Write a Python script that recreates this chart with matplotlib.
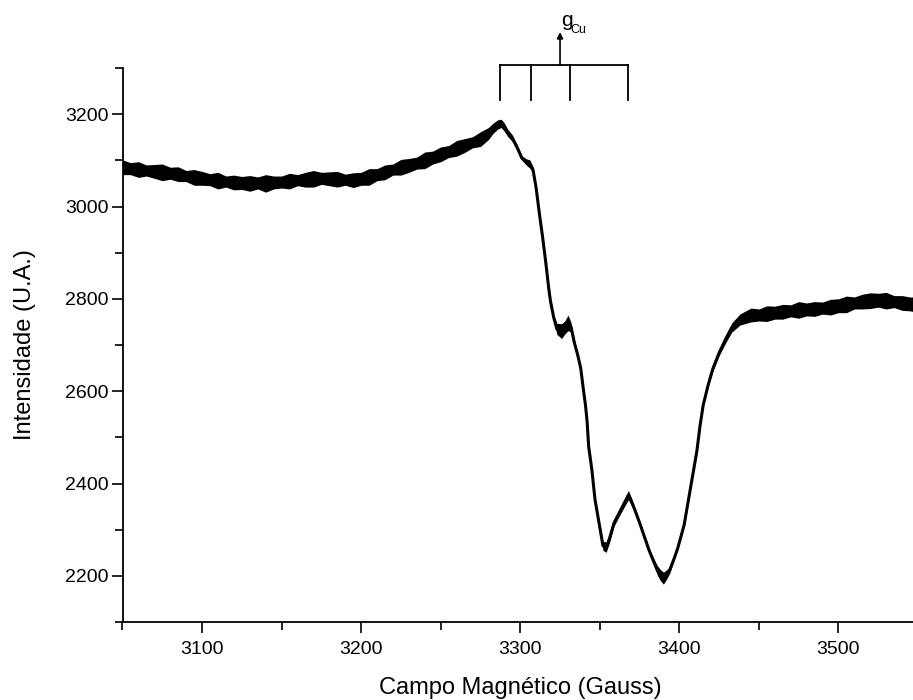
import matplotlib
matplotlib.use("Agg")
import matplotlib.pyplot as plt
import numpy as np

plt.rcParams['font.family'] = ['Liberation Sans', 'DejaVu Sans']

# campo magnetico (G), intensidade media e meia-largura do ruido
campo = [3050, 3055, 3060, 3065, 3070, 3075, 3080, 3085, 3090, 3095,
         3100, 3105, 3110, 3115, 3120, 3125, 3130, 3135, 3140, 3145,
         3150, 3155, 3160, 3165, 3170, 3175, 3180, 3185, 3190, 3195,
         3200, 3205, 3210, 3215, 3220, 3225, 3230, 3235, 3240, 3245,
         3250, 3255, 3260, 3265, 3270, 3275, 3280, 3283, 3286, 3288,
         3290, 3292, 3295, 3298, 3301, 3304, 3306, 3308, 3310, 3312,
         3314, 3316, 3318, 3319, 3321, 3323, 3326, 3328, 3330, 3332,
         3334, 3336, 3338, 3340, 3341, 3342, 3343, 3345, 3347, 3350,
         3352, 3354, 3356, 3359, 3362, 3365, 3368, 3370, 3372, 3375,
         3378, 3381, 3384, 3386, 3388, 3390, 3392, 3394, 3397, 3399,
         3401, 3403, 3405, 3407, 3409, 3411, 3413, 3415, 3418, 3421,
         3425, 3429, 3433, 3438, 3445, 3450, 3455, 3460, 3465, 3470,
         3475, 3480, 3485, 3490, 3495, 3500, 3505, 3510, 3515, 3520,
         3525, 3530, 3535, 3540, 3545, 3550]
intensidade = [3085, 3082, 3080, 3078, 3076, 3074, 3072, 3070, 3066, 3063,
               3061, 3058, 3056, 3054, 3052, 3051, 3050, 3051, 3050, 3052,
               3053, 3055, 3057, 3058, 3060, 3061, 3060, 3059, 3058, 3057,
               3060, 3064, 3069, 3074, 3080, 3085, 3089, 3094, 3100, 3106,
               3113, 3119, 3126, 3132, 3139, 3146, 3158, 3170, 3178, 3180,
               3172, 3160, 3148, 3128, 3105, 3096, 3092, 3080, 3040, 2985,
               2935, 2880, 2820, 2795, 2760, 2735, 2730, 2738, 2748, 2738,
               2705, 2680, 2650, 2595, 2570, 2535, 2480, 2430, 2365, 2305,
               2265, 2262, 2280, 2315, 2335, 2355, 2375, 2360, 2343, 2315,
               2285, 2255, 2230, 2213, 2202, 2195, 2203, 2213, 2240, 2260,
               2285, 2310, 2350, 2390, 2430, 2470, 2525, 2570, 2612, 2648,
               2683, 2712, 2738, 2755, 2765, 2765, 2768, 2770, 2772, 2774,
               2776, 2777, 2778, 2780, 2782, 2785, 2788, 2791, 2794, 2796,
               2797, 2796, 2794, 2791, 2789, 2787]
ruido = [16, 13, 17, 12, 15, 18, 13, 16, 12, 17,
         15, 13, 18, 12, 16, 14, 17, 13, 19, 14,
         13, 17, 12, 16, 18, 13, 15, 17, 12, 16,
         14, 18, 13, 16, 12, 17, 15, 13, 18, 14,
         16, 13, 17, 15, 12, 16, 13, 11, 10, 9,
         9, 8, 7, 6, 5, 7, 9, 6, 2, 1,
         1, 1, 1, 2, 5, 12, 16, 14, 17, 10,
         5, 2, 2, 1, 1, 1, 1, 1, 2, 7,
         10, 11, 9, 7, 7, 8, 10, 8, 6, 5,
         5, 5, 7, 10, 12, 13, 10, 7, 3, 2,
         2, 1, 1, 1, 1, 1, 2, 2, 3, 5,
         6, 8, 10, 12, 15, 13, 17, 14, 16, 13,
         18, 14, 16, 13, 17, 15, 18, 13, 16, 17,
         15, 18, 13, 16, 15, 17]

# linhas hiperfinas do Cu marcadas no topo
linhas_cu = [3287, 3307, 3331, 3368]
g_cu = 3325

campo = np.array(campo)
intensidade = np.array(intensidade)
ruido = np.array(ruido)

fig = plt.figure(figsize=(9.13, 7.0), dpi=100)
ax = fig.add_axes([122.5 / 913, 1 - 622 / 700, (918 - 122.5) / 913, (622 - 68) / 700])

ax.fill_between(campo, intensidade - ruido, intensidade + ruido, color='black', lw=0)
ax.plot(campo, intensidade, color='black', lw=2.2)

ax.set_xlim(3050, 3550)
ax.set_ylim(2100, 3300)
ax.set_xticks([3100, 3200, 3300, 3400, 3500])
ax.set_xticks([3050, 3150, 3250, 3350, 3450, 3550], minor=True)
ax.set_yticks([2200, 2400, 2600, 2800, 3000, 3200])
ax.set_yticks([2100, 2300, 2500, 2700, 2900, 3100, 3300], minor=True)
ax.tick_params(which='major', direction='out', length=8, width=1.2, labelsize=14)
ax.tick_params(axis='x', which='major', pad=6)
ax.tick_params(axis='y', which='major', pad=2)
ax.tick_params(which='minor', direction='out', length=5.5, width=1.2)

for s in ['top', 'right']:
    ax.spines[s].set_visible(False)
for s in ['left', 'bottom']:
    ax.spines[s].set_linewidth(1.3)

ax.set_xlabel('Campo Magnético (Gauss)', fontsize=17)
ax.set_ylabel('Intensidade (U.A.)', fontsize=17)
ax.xaxis.set_label_coords(0.5, -0.100)
ax.yaxis.set_label_coords(-0.109, 0.5)

# marcador g_Cu
y_top, y_bot = 3306.5, 3231
ax.plot([linhas_cu[0], linhas_cu[-1]], [y_top, y_top], color='black', lw=1.3, clip_on=False)
for xl in linhas_cu:
    ax.plot([xl, xl], [y_bot, y_top], color='black', lw=1.3, clip_on=False)
ax.annotate('', xy=(g_cu, 3378), xytext=(g_cu, y_top),
            arrowprops=dict(arrowstyle='-|>', lw=1.2, color='black', mutation_scale=9,
                            shrinkA=0, shrinkB=0),
            annotation_clip=False)
ax.text(g_cu + 0.5, 3392, 'g', fontsize=15, ha='left', va='baseline', clip_on=False)
ax.text(g_cu + 6.5, 3376, 'Cu', fontsize=9, ha='left', va='baseline', clip_on=False)

fig.savefig('out.png', dpi=100)
